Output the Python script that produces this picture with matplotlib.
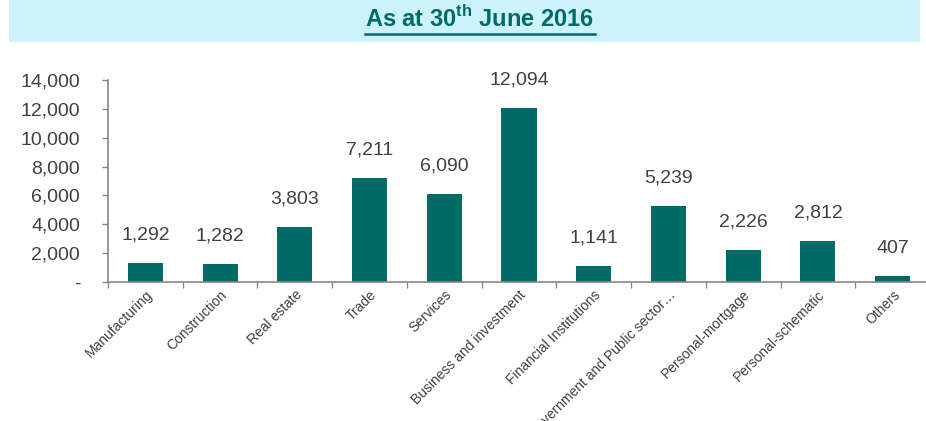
import matplotlib
matplotlib.use('Agg')
import matplotlib.pyplot as plt
from matplotlib.patches import Rectangle
from matplotlib.lines import Line2D
import numpy as np

plt.rcParams['font.family'] = ['Liberation Sans', 'DejaVu Sans']
plt.rcParams['mathtext.fontset'] = 'custom'
plt.rcParams['mathtext.rm'] = 'Liberation Sans'
plt.rcParams['mathtext.bf'] = 'Liberation Sans:bold'

# Data
categories = ['Manufacturing', 'Construction', 'Real estate', 'Trade', 'Services',
              'Business and investment', 'Financial Institutions',
              'Government and Public sector\u2026', 'Personal-mortgage',
              'Personal-schematic', 'Others']
values = [1292, 1282, 3803, 7211, 6090, 12094, 1141, 5239, 2226, 2812, 407]
yticks = [0, 2000, 4000, 6000, 8000, 10000, 12000, 14000]

teal = '#006A65'
grey = '#868686'
text_col = '#404040'

W, H = 926, 421
fig = plt.figure(figsize=(W / 100, H / 100), dpi=100)

# header band
fig.patches.append(Rectangle((9 / W, 1 - 42 / H), (920 - 9) / W, 42 / H,
                             transform=fig.transFigure, facecolor='#CCF2FC',
                             edgecolor='none', zorder=0))
title = fig.text(480 / W, 1 - 19 / H, r'As at 30$^{\mathbf{th}}$ June 2016',
                 ha='center', va='center', fontsize=17, fontweight='bold',
                 color=teal)

# axes
ax = fig.add_axes([108 / W, (H - 282) / H, (930 - 108) / W, 202 / H])
x = np.arange(len(categories))
ax.bar(x, values, width=0.47, color=teal, zorder=2)

for xi, v in zip(x, values):
    ax.annotate(f'{v:,}', (xi, v), xytext=(0, 14), textcoords='offset points',
                ha='center', va='bottom', fontsize=14, color=text_col)

ax.set_xlim(-0.5, len(categories) - 0.5)
ax.set_ylim(0, 14000)
ax.set_yticks(yticks)
ax.set_yticklabels(['-' if t == 0 else f'{t:,}' for t in yticks])
ax.tick_params(axis='y', length=4, width=1, color=grey, pad=16,
               labelsize=14, labelcolor=text_col)

ax.set_xticks(x)
ax.set_xticklabels(categories, rotation=45, ha='right', rotation_mode='anchor',
                   fontsize=10, color=text_col)
ax.tick_params(axis='x', which='major', length=0, pad=4)
ax.set_xticks(np.arange(-0.5, len(categories), 1), minor=True)
ax.tick_params(axis='x', which='minor', length=4, width=1, color=grey)

for s in ['top', 'right']:
    ax.spines[s].set_visible(False)
for s in ['left', 'bottom']:
    ax.spines[s].set_color(grey)
    ax.spines[s].set_linewidth(1.2)
ax.set_facecolor('none')

# underline title
fig.canvas.draw()
bb = title.get_window_extent().transformed(fig.transFigure.inverted())
fig.add_artist(Line2D([bb.x0, bb.x1], [bb.y0 - 2 / H, bb.y0 - 2 / H],
                      transform=fig.transFigure, color=teal, linewidth=1.8))

fig.savefig('out.png', dpi=100)
